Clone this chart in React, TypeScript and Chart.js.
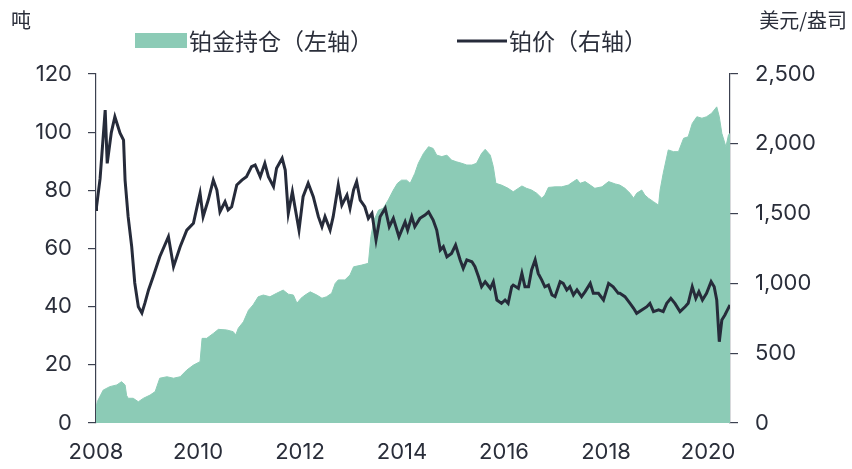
import React, { useEffect, useRef } from "react";
import { Chart, registerables } from "chart.js";

Chart.register(...registerables);

// Platinum price (USD/oz), right axis
const priceYears = [
  2008.0, 2008.01, 2008.08, 2008.18, 2008.22, 2008.3, 2008.37, 2008.47, 2008.54, 2008.57, 2008.63, 2008.7, 2008.76,
  2008.83, 2008.9, 2008.96, 2009.03, 2009.12, 2009.25, 2009.42, 2009.52, 2009.65, 2009.78, 2009.91, 2010.01,
  2010.04, 2010.1, 2010.2, 2010.3, 2010.37, 2010.43, 2010.53, 2010.59, 2010.66, 2010.76, 2010.86, 2010.95,
  2011.05, 2011.12, 2011.22, 2011.31, 2011.38, 2011.48, 2011.54, 2011.65, 2011.71, 2011.77, 2011.85, 2011.9,
  2011.98, 2012.06, 2012.16, 2012.26, 2012.36, 2012.43, 2012.49, 2012.59, 2012.65, 2012.75, 2012.82, 2012.92,
  2012.98, 2013.05, 2013.11, 2013.18, 2013.27, 2013.34, 2013.41, 2013.49, 2013.57, 2013.67, 2013.75, 2013.83,
  2013.94, 2014.06, 2014.11, 2014.19, 2014.25, 2014.35, 2014.45, 2014.52, 2014.61, 2014.68, 2014.75, 2014.81,
  2014.88, 2014.97, 2015.05, 2015.14, 2015.2, 2015.27, 2015.37, 2015.43, 2015.5, 2015.56, 2015.63, 2015.73,
  2015.79, 2015.86, 2015.95, 2016.02, 2016.08, 2016.15, 2016.18, 2016.28, 2016.35, 2016.41, 2016.48, 2016.54,
  2016.61, 2016.67, 2016.74, 2016.8, 2016.87, 2016.94, 2017.0, 2017.1, 2017.16, 2017.23, 2017.29, 2017.36,
  2017.43, 2017.52, 2017.59, 2017.69, 2017.75, 2017.85, 2017.95, 2018.05, 2018.14, 2018.24, 2018.27, 2018.37,
  2018.47, 2018.54, 2018.6, 2018.7, 2018.8, 2018.86, 2018.93, 2019.03, 2019.12, 2019.19, 2019.27, 2019.35,
  2019.45, 2019.55, 2019.61, 2019.69, 2019.76, 2019.82, 2019.89, 2019.97, 2020.06, 2020.12, 2020.17, 2020.22,
  2020.27, 2020.33, 2020.38, 2020.43,
];
const priceValues = [
  1530, 1549, 1750, 2242, 1860, 2080, 2194, 2077, 2027, 1740, 1478, 1263, 1003,
  833, 788, 860, 953, 1048, 1191, 1334, 1120, 1263, 1382, 1430, 1597,
  1645, 1478, 1597, 1740, 1669, 1513, 1585, 1526, 1549, 1705, 1740, 1764,
  1836, 1848, 1764, 1860, 1764, 1693, 1824, 1896, 1812, 1502, 1657, 1549,
  1382, 1621, 1717, 1621, 1478, 1406, 1478, 1382, 1478, 1705, 1561, 1633,
  1538, 1669, 1729, 1597, 1549, 1466, 1502, 1311, 1478, 1538, 1406, 1466,
  1334, 1440, 1382, 1478, 1406, 1466, 1490, 1513, 1454, 1382, 1239, 1263,
  1191, 1215, 1275, 1168, 1108, 1168, 1155, 1120, 1048, 976, 1012, 965,
  1012, 881, 857, 881, 857, 976, 988, 965, 1072, 976, 976, 1096,
  1168, 1072, 1024, 976, 988, 917, 905, 1012, 1000, 953, 976, 917,
  953, 905, 941, 1000, 929, 929, 881, 1000, 976, 929, 929, 905,
  857, 822, 786, 810, 833, 857, 798, 810, 798, 857, 893, 857,
  798, 833, 857, 976, 893, 941, 881, 929, 1012, 976, 881, 582,
  738, 774, 810, 845,
];

// Platinum ETF holdings (tonnes), left axis
const holdingYears = [
  2008.0, 2008.03, 2008.14, 2008.27, 2008.41, 2008.5, 2008.57, 2008.6, 2008.63, 2008.73, 2008.83, 2008.93,
  2009.06, 2009.16, 2009.25, 2009.39, 2009.52, 2009.65, 2009.78, 2009.91, 2010.04, 2010.08, 2010.17, 2010.3,
  2010.4, 2010.56, 2010.69, 2010.74, 2010.79, 2010.89, 2010.99, 2011.08, 2011.18, 2011.28, 2011.41, 2011.54,
  2011.67, 2011.77, 2011.87, 2011.94, 2012.02, 2012.1, 2012.2, 2012.33, 2012.43, 2012.52, 2012.62, 2012.69,
  2012.75, 2012.88, 2012.98, 2013.05, 2013.21, 2013.34, 2013.39, 2013.45, 2013.54, 2013.63, 2013.73, 2013.83,
  2013.91, 2013.99, 2014.09, 2014.16, 2014.25, 2014.32, 2014.42, 2014.52, 2014.61, 2014.68, 2014.78, 2014.88,
  2014.97, 2015.07, 2015.17, 2015.27, 2015.37, 2015.46, 2015.56, 2015.63, 2015.73, 2015.79, 2015.84, 2015.95,
  2016.08, 2016.18, 2016.35, 2016.44, 2016.54, 2016.64, 2016.74, 2016.8, 2016.87, 2017.0, 2017.13, 2017.26,
  2017.36, 2017.43, 2017.49, 2017.59, 2017.69, 2017.78, 2017.92, 2018.05, 2018.18, 2018.27, 2018.37, 2018.47,
  2018.54, 2018.6, 2018.7, 2018.76, 2018.83, 2018.93, 2019.03, 2019.06, 2019.12, 2019.22, 2019.32, 2019.42,
  2019.52, 2019.61, 2019.69, 2019.78, 2019.88, 2019.97, 2020.07, 2020.17, 2020.22, 2020.27, 2020.35, 2020.4,
  2020.43,
];
const holdingValues = [
  5.5, 7.5, 11.3, 12.5, 13.1, 14.2, 13.1, 9.5, 8.5, 8.5, 7.3, 8.5,
  9.6, 10.8, 15.4, 15.9, 15.4, 15.9, 18.2, 19.9, 21.1, 29.1, 29.1, 30.8,
  32.2, 32.0, 31.4, 30.3, 32.6, 34.8, 38.8, 40.6, 43.4, 44.0, 43.4, 44.6,
  45.7, 44.3, 44.0, 41.2, 42.9, 44.0, 45.1, 44.0, 42.9, 43.4, 44.6, 48.0,
  49.2, 49.2, 50.9, 53.7, 54.3, 54.9, 64.1, 69.8, 73.2, 73.8, 76.7, 80.1,
  82.4, 83.5, 83.5, 82.4, 85.8, 89.3, 92.7, 95.0, 94.4, 92.1, 91.6, 92.1,
  90.4, 89.8, 89.3, 88.7, 88.7, 89.3, 92.7, 94.1, 92.1, 88.1, 82.4, 81.8,
  80.7, 79.5, 81.5, 80.7, 80.1, 79.0, 77.3, 78.4, 81.0, 81.2, 81.2, 81.8,
  83.0, 83.8, 82.4, 83.0, 81.8, 80.7, 81.2, 83.0, 82.2, 81.8, 80.7, 79.0,
  77.3, 79.0, 80.1, 78.4, 77.3, 76.1, 74.9, 80.1, 85.8, 93.9, 93.3, 93.3,
  97.9, 98.4, 103.0, 105.3, 104.8, 105.3, 106.5, 108.7, 105.3, 99.6, 95.0, 99.0,
  99.6,
];

const xTickYears = [2008, 2010, 2012, 2014, 2016, 2018, 2020];
const leftTicks = [0, 20, 40, 60, 80, 100, 120];
const rightTicks = [0, 500, 1000, 1500, 2000, 2500];

const holdingLabel = "铂金持仓（左轴）";
const priceLabel = "铂价（右轴）";
const leftUnit = "吨";
const rightUnit = "美元/盎司";

const GREEN = "#8ccbb6";
const NAVY = "#262b3a";
const AXIS = "#3c4150";
const TEXT = "#2a2e3a";
const NUM_FONT = "Inter, 'Noto Sans CJK SC', sans-serif";
const CJK_FONT = "'Noto Sans CJK SC', sans-serif";

const overlayPlugin = {
  id: "overlay",
  afterDraw(chart: any) {
    const ctx = chart.ctx;
    ctx.save();
    ctx.fillStyle = TEXT;
    ctx.textBaseline = "middle";
    ctx.font = `20px ${CJK_FONT}`;
    ctx.textAlign = "left";
    ctx.fillText(leftUnit, 11, 20);
    ctx.textAlign = "right";
    ctx.fillText(rightUnit, 847, 20);
    // legend
    ctx.font = `23px ${CJK_FONT}`;
    ctx.textAlign = "left";
    ctx.fillStyle = GREEN;
    ctx.fillRect(135, 33, 52, 15);
    ctx.fillStyle = TEXT;
    ctx.fillText(holdingLabel, 189, 41);
    ctx.strokeStyle = NAVY;
    ctx.lineWidth = 3;
    ctx.beginPath();
    ctx.moveTo(457, 41);
    ctx.lineTo(507, 41);
    ctx.stroke();
    ctx.fillText(priceLabel, 509, 41);
    ctx.restore();
  },
};

export default function App() {
  const ref = useRef<HTMLCanvasElement | null>(null);
  useEffect(() => {
    if (!ref.current) return;
    const priceData = priceYears.map((x, i) => ({ x, y: priceValues[i] }));
    const holdingData = holdingYears.map((x, i) => ({ x, y: holdingValues[i] }));
    const tickFont = { family: NUM_FONT, size: 22 };
    const chart = new Chart(ref.current, {
      type: "line",
      data: {
        datasets: [
          {
            label: priceLabel,
            data: priceData,
            yAxisID: "yR",
            borderColor: NAVY,
            borderWidth: 3,
            pointRadius: 0,
            tension: 0,
            fill: false,
          },
          {
            label: holdingLabel,
            data: holdingData,
            yAxisID: "yL",
            borderColor: GREEN,
            backgroundColor: GREEN,
            borderWidth: 1,
            pointRadius: 0,
            tension: 0,
            fill: "origin",
          },
        ],
      },
      options: {
        animation: false,
        responsive: true,
        maintainAspectRatio: false,
        layout: { padding: { top: 74, left: 0, right: 0, bottom: 0 } },
        plugins: { legend: { display: false }, tooltip: { enabled: false } },
        scales: {
          x: {
            type: "linear",
            min: 2008,
            max: 2020.43,
            afterFit: (s: any) => { s.height = 46; },
            afterBuildTicks: (s: any) => { s.ticks = xTickYears.map((v) => ({ value: v })); },
            ticks: { color: TEXT, font: tickFont, padding: 16, callback: (v: any) => String(v), maxRotation: 0, autoSkip: false },
            grid: { display: false, drawTicks: false },
            border: { display: false },
          },
          yL: {
            position: "left",
            min: 0,
            max: 120,
            afterFit: (s: any) => { s.width = 96; },
            afterBuildTicks: (s: any) => { s.ticks = leftTicks.map((v) => ({ value: v })); },
            ticks: { color: TEXT, font: tickFont, padding: 16 },
            grid: { drawOnChartArea: false, drawTicks: true, tickLength: 8, color: AXIS, lineWidth: 1.2 },
            border: { display: true, color: AXIS, width: 1.2 },
          },
          yR: {
            position: "right",
            min: 0,
            max: 2500,
            afterFit: (s: any) => { s.width = 122; },
            afterBuildTicks: (s: any) => { s.ticks = rightTicks.map((v) => ({ value: v })); },
            ticks: {
              color: TEXT,
              font: tickFont,
              padding: 17,
              callback: (v: any) => Number(v).toLocaleString("en-US"),
            },
            grid: { drawOnChartArea: false, drawTicks: true, tickLength: 8, color: AXIS, lineWidth: 1.2 },
            border: { display: true, color: AXIS, width: 1.2 },
          },
        },
      },
      plugins: [overlayPlugin],
    });
    return () => chart.destroy();
  }, []);
  return (
    <div style={{ position: "fixed", left: 0, top: 0, width: 852, height: 469, background: "#fff" }}>
      <canvas ref={ref} />
    </div>
  );
}
